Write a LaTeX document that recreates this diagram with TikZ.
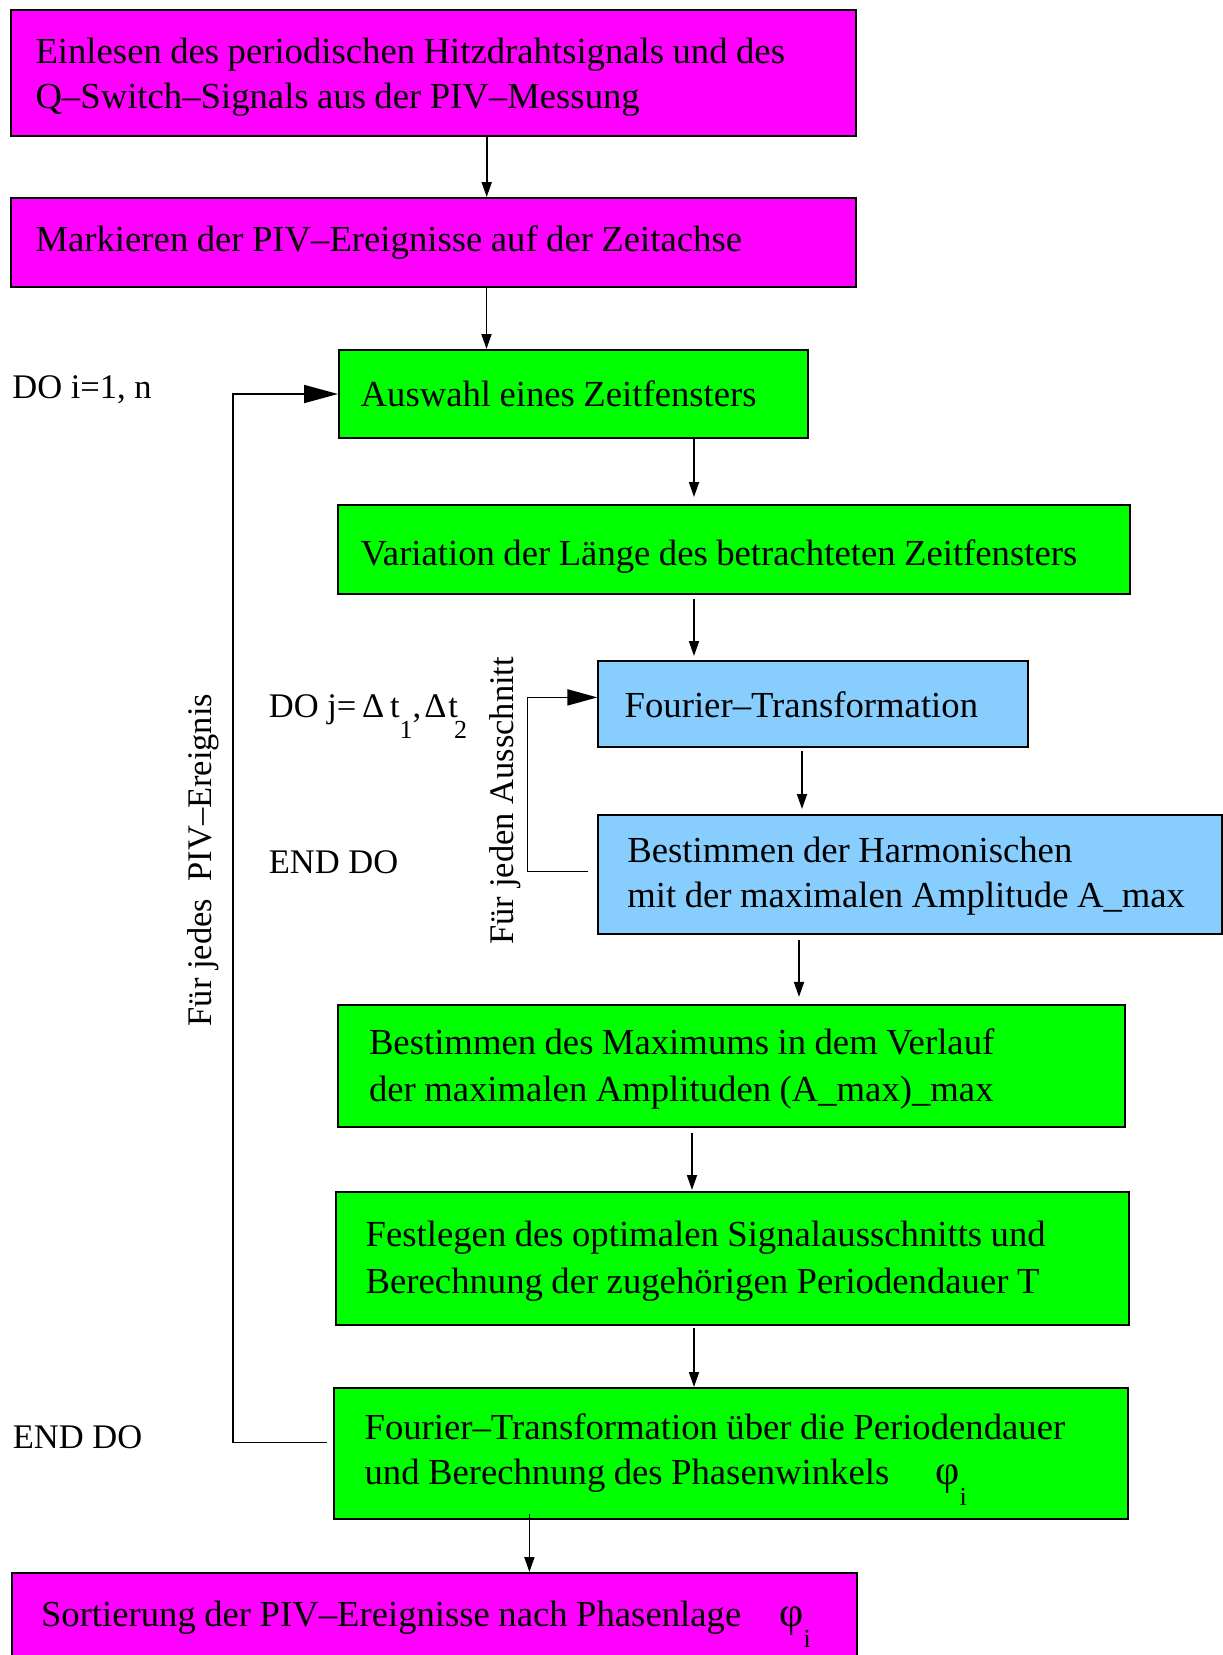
\documentclass[tikz,border=0pt]{standalone}
\usepackage{fontspec}
\setmainfont{Liberation Serif}
\usetikzlibrary{arrows.meta}
\definecolor{boxmagenta}{RGB}{255,0,255}
\definecolor{boxgreen}{RGB}{0,255,0}
\definecolor{boxblue}{RGB}{135,206,255}
\newcommand{\lowsub}[1]{\smash{\raisebox{-21pt}{\fontsize{26}{26}\selectfont #1}}}
\newcommand{\phisym}{{\fontsize{42}{42}\selectfont φ}}

\tikzset{every picture/.style={line width=1.8pt},
  stepbox/.style={draw=black, line width=2pt, anchor=north west, align=left, inner ysep=0pt, text height=40pt, font=\fontsize{36.7}{45}\selectfont, execute at begin node={\spaceskip=0.23em\relax}},
  flow/.style={-{Triangle[length=15pt,width=10pt]}},
  backloop/.style={-{Triangle[length=34pt,width=18pt]}},
  looplabel/.style={inner sep=0pt, font=\fontsize{34.5}{40}\selectfont}}

\begin{document}
\begin{tikzpicture}[x=1pt,y=1pt,yscale=-1,xscale=1]
\path[use as bounding box, fill=white] (0,0) rectangle (1223,1655);

%Shape: Rectangle [b1]
\node (b1) [stepbox, fill=boxmagenta, minimum height=126pt, inner xsep=25pt, text width=795pt, text depth=57.6pt] at (9.5,8.5) {Einlesen des periodischen Hitzdrahtsignals und des\\Q–Switch–Signals aus der PIV–Messung};
%Shape: Rectangle [b2]
\node (b2) [stepbox, fill=boxmagenta, minimum height=88.5pt, inner xsep=25pt, text width=795pt, text depth=22.5pt] at (9.5,197) {Markieren der PIV–Ereignisse auf der Zeitachse};
%Shape: Rectangle [b3]
\node (b3) [stepbox, fill=boxgreen, minimum height=88pt, inner xsep=21.7pt, text width=425.6pt, text depth=16pt] at (338,349) {Auswahl eines Zeitfensters};
%Shape: Rectangle [b4]
\node (b4) [stepbox, fill=boxgreen, minimum height=88.5pt, inner xsep=23pt, text width=746.5pt, text depth=8.5pt] at (336.5,504) {Variation der Länge des betrachteten Zeitfensters};
%Shape: Rectangle [b5]
\node (b5) [stepbox, fill=boxblue, minimum height=86pt, inner xsep=26.3pt, text width=377.4pt, text depth=14pt] at (597.4,660) {Fourier–Transformation};
%Shape: Rectangle [b6]
\node (b6) [stepbox, fill=boxblue, minimum height=119pt, inner xsep=29pt, text width=566pt, text depth=63.6pt] at (597.4,814) {Bestimmen der Harmonischen\\mit der maximalen Amplitude A\_max};
%Shape: Rectangle [b7]
\node (b7) [stepbox, fill=boxgreen, minimum height=122.5pt, inner xsep=31pt, text width=725pt, text depth=63.5pt, font=\fontsize{36.7}{47}\selectfont] at (337,1003.5) {Bestimmen des Maximums in dem Verlauf\\der maximalen Amplituden (A\_max)\_max};
%Shape: Rectangle [b8]
\node (b8) [stepbox, fill=boxgreen, minimum height=132.5pt, inner xsep=29.7pt, text width=733.1pt, text depth=63.9pt, font=\fontsize{36.7}{47.5}\selectfont] at (335,1191) {Festlegen des optimalen Signalausschnitts und\\Berechnung der zugehörigen Periodendauer T};
%Shape: Rectangle [b9]
\node (b9) [stepbox, fill=boxgreen, minimum height=131pt, inner xsep=30.6pt, text width=732.3pt, text depth=68.4pt] at (333,1387) {Fourier–Transformation über die Periodendauer\\und Berechnung des Phasenwinkels\hspace{46pt}\phisym\lowsub{i}};
%Shape: Rectangle [b10]
\node (b10) [stepbox, fill=boxmagenta, minimum height=89pt, inner xsep=29pt, text width=787pt, text depth=23pt] at (11,1572) {Sortierung der PIV–Ereignisse nach Phasenlage\hspace{38pt}\phisym\lowsub{i}};

% Text Node
\node (doi) [looplabel, anchor=base west] at (11.5,398) {DO i=1, n};
% Text Node
\node (doj) [looplabel, anchor=base west] at (268,717) {DO j=\,Δ\,t\lowsub{1},\hspace{3pt}Δ\hspace{2pt}t\hspace{-4pt}\lowsub{2}};
% Text Node
\node (endj) [looplabel, anchor=base west] at (268,873.7) {END DO};
% Text Node
\node (endi) [looplabel, anchor=base west] at (12,1448) {END DO};
% Text Node
\node (lbli) [looplabel, rotate=90] at (203,860) {Für jedes\ \ PIV–Ereignis};
% Text Node
\node (lblj) [looplabel, rotate=90] at (505,800.7) {Für jeden Ausschnitt};

%Straight Lines
\draw[flow] (b1.south -| 486.7,0) -- (b2.north -| 486.7,0);
\draw[flow] (b2.south -| 486.5,0) -- (b3.north -| 486.5,0);
\draw[flow, shorten >=7pt] (b3.south -| 694,0) -- (b4.north -| 694,0);
\draw[flow, shorten <=4pt, shorten >=4pt] (b4.south -| 694,0) -- (b5.north -| 694,0);
\draw[flow, shorten <=3pt, shorten >=5pt] (b5.south -| 802,0) -- (b6.north -| 802,0);
\draw[flow, shorten <=5pt, shorten >=6.6pt] (b6.south -| 799,0) -- (b7.north -| 799,0);
\draw[flow, shorten <=4.7pt, shorten >=1pt] (b7.south -| 692,0) -- (b8.north -| 692,0);
\draw[flow, shorten <=2pt] (b8.south -| 694,0) -- (b9.north -| 694,0);
\draw[flow, shorten <=-6pt] (b9.south -| 529.4,0) -- (b10.north -| 529.4,0);

%Loops
\draw[backloop] ([xshift=-6pt,yshift=-11pt]b9.west) -- ++(-94,0) |- (b3.west);
\draw[-{Triangle[length=30pt,width=16pt]}] ([xshift=-9pt,yshift=-3pt]b6.west) -- ++(-61,0) |- ([yshift=-6.6pt]b5.west);
\end{tikzpicture}
\end{document}
